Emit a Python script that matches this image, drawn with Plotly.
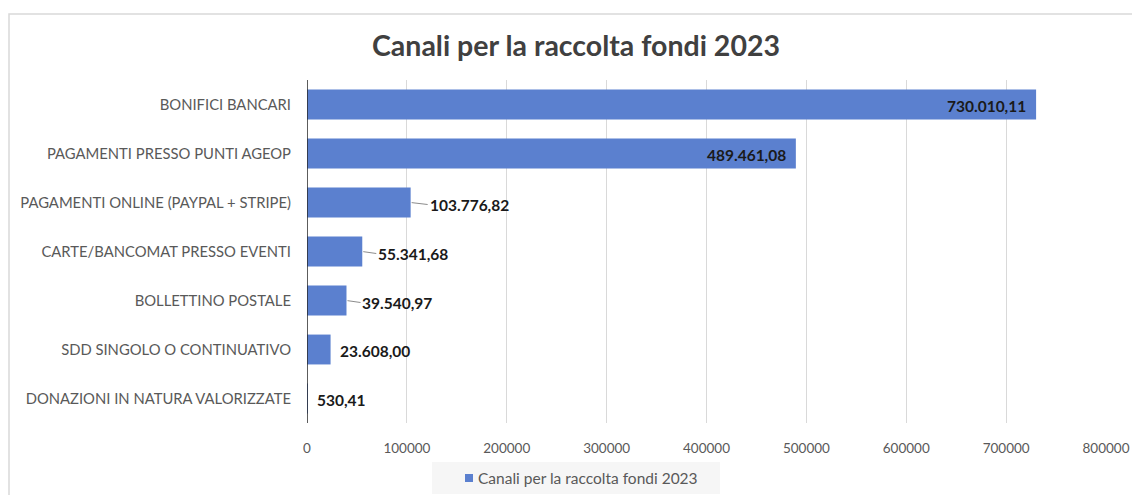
import plotly.graph_objects as go

categories = [
    "BONIFICI BANCARI",
    "PAGAMENTI PRESSO PUNTI AGEOP",
    "PAGAMENTI ONLINE (PAYPAL + STRIPE)",
    "CARTE/BANCOMAT PRESSO EVENTI",
    "BOLLETTINO POSTALE",
    "SDD SINGOLO O CONTINUATIVO",
    "DONAZIONI IN NATURA VALORIZZATE",
]
values = [730010.11, 489461.08, 103776.82, 55341.68, 39540.97, 23608.00, 530.41]
x_ticks = [0, 100000, 200000, 300000, 400000, 500000, 600000, 700000, 800000]
series_name = "Canali per la raccolta fondi 2023"

W, H = 1132, 495
ML, MR, MT, MB = 307, 26, 80, 72
PW, PH = W - ML - MR, H - MT - MB

FONT = "Lato"
BAR = "#5b80cf"
GREY_TXT = "#595959"
LABEL_TXT = "#1a1a1a"


def it_number(v):
    s = f"{v:,.2f}"
    return s.replace(",", "X").replace(".", ",").replace("X", ".")


def px_x(px):
    return (px - ML) / PW


def px_y(py):
    return (H - MB - py) / PH


fig = go.Figure(
    go.Bar(
        y=categories,
        x=values,
        orientation="h",
        marker=dict(color=BAR, line=dict(width=0)),
        name=series_name,
        showlegend=False,
    )
)

label_font = dict(family=FONT, size=15.5, color=LABEL_TXT)
annotations = []
for cat, v in zip(categories, values):
    label = f"<b>{it_number(v)}</b>"
    if v > 300000:
        # value written inside the end of long bars
        annotations.append(dict(
            x=v, y=cat, xref="x", yref="y", text=label, showarrow=False,
            xanchor="right", xshift=-8, yshift=-1, font=label_font,
        ))
    elif v > 30000:
        # value outside the bar, joined by a short leader line
        annotations.append(dict(
            x=v, y=cat, xref="x", yref="y", text=label,
            showarrow=True, arrowhead=0, arrowwidth=1, arrowcolor="#8c8c8c",
            ax=14 if v < 100000 else 17, ay=2, axref="pixel", ayref="pixel",
            xanchor="left", standoff=1, startstandoff=0, font=label_font,
        ))
    else:
        annotations.append(dict(
            x=v, y=cat, xref="x", yref="y", text=label, showarrow=False,
            xanchor="left", xshift=7, yshift=-1, font=label_font,
        ))

# legend entry, drawn beside the chart
annotations.append(dict(
    x=px_x(476), y=px_y(478), xref="paper", yref="paper", text=series_name,
    showarrow=False, xanchor="left", yanchor="middle",
    font=dict(family=FONT, size=15.5, color=GREY_TXT),
))

shapes = [
    # chart frame
    dict(type="rect", xref="paper", yref="paper",
         x0=px_x(9), x1=px_x(1145), y0=px_y(510), y1=px_y(14),
         line=dict(color="#d9d9d9", width=1.5), fillcolor="rgba(0,0,0,0)", layer="below"),
    # legend background
    dict(type="rect", xref="paper", yref="paper",
         x0=px_x(432), x1=px_x(720), y0=px_y(494), y1=px_y(462),
         line=dict(width=0), fillcolor="#f6f6f6", layer="below"),
    # legend swatch
    dict(type="rect", xref="paper", yref="paper",
         x0=px_x(465), x1=px_x(473), y0=px_y(482), y1=px_y(474),
         line=dict(width=0), fillcolor=BAR),
    # category axis line at zero
    dict(type="line", xref="x", yref="paper", x0=0, x1=0, y0=0, y1=1,
         line=dict(color="#262626", width=1.5)),
]

fig.update_layout(
    width=W, height=H,
    margin=dict(l=ML, r=MR, t=MT, b=MB, pad=0, autoexpand=False),
    paper_bgcolor="white", plot_bgcolor="white",
    bargap=0.39,
    showlegend=False,
    font=dict(family=FONT, color=GREY_TXT),
    title=dict(
        text="<b>Canali per la raccolta fondi 2023</b>",
        x=576 / W, xanchor="center", y=1 - 46 / H, yanchor="middle",
        font=dict(family=FONT, size=28.5, color="#404040"),
    ),
    xaxis=dict(
        range=[0, 800000], tickvals=x_ticks, ticktext=[str(t) for t in x_ticks],
        showgrid=True, gridcolor="#d9d9d9", gridwidth=1,
        zeroline=False, showline=False, ticks="", automargin=False,
        tickfont=dict(family=FONT, size=13.5, color=GREY_TXT),
        ticklabelstandoff=15,
    ),
    yaxis=dict(
        autorange="reversed", showgrid=False, zeroline=False, showline=False,
        ticks="", automargin=False,
        tickfont=dict(family=FONT, size=14.8, color=GREY_TXT),
        ticklabelstandoff=15,
    ),
    annotations=annotations,
    shapes=shapes,
)

fig.write_html("out.html")
